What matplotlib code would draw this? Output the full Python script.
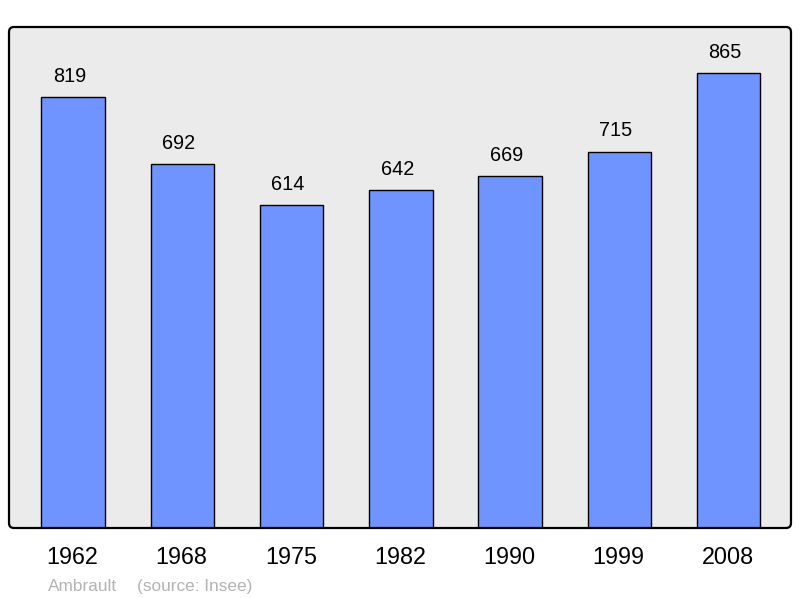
import matplotlib.pyplot as plt
from matplotlib.patches import FancyBboxPatch

plt.rcParams["font.family"] = ["Liberation Sans", "DejaVu Sans"]

years = ["1962", "1968", "1975", "1982", "1990", "1999", "2008"]
population = [819, 692, 614, 642, 669, 715, 865]
commune = "Ambrault"
source = "(source: Insee)"

fig = plt.figure(figsize=(8.0, 5.98), dpi=100)
ax = fig.add_axes([9 / 800, 70 / 598, 782 / 800, 501 / 598])
ax.patch.set_visible(False)
for s in ax.spines.values():
    s.set_visible(False)

# rounded frame: grey face behind, black outline on top
face = FancyBboxPatch((0.09, 0.70), 7.82, 5.01, boxstyle="round,pad=0,rounding_size=0.05",
                      transform=fig.dpi_scale_trans, facecolor="#ebebeb", edgecolor="none",
                      zorder=-1)
edge = FancyBboxPatch((0.09, 0.70), 7.82, 5.01, boxstyle="round,pad=0,rounding_size=0.05",
                      transform=fig.dpi_scale_trans, facecolor="none", edgecolor="black",
                      linewidth=1.6, zorder=2)
fig.patches.extend([face, edge])

x = range(len(years))
ax.bar(x, population, width=0.58, color="#7094ff", edgecolor="black", linewidth=1.0)
ax.set_xlim(-0.585, 6.57)
ax.set_ylim(0, 952)
ax.set_xticks([])
ax.set_yticks([])

for i, v in zip(x, population):
    ax.annotate(str(v), xy=(i, v), xytext=(-2.5, 11), textcoords="offset points",
                ha="center", va="baseline", fontsize=14.3)
    ax.annotate(years[i], xy=(i, 0), xytext=(-0.5, -26), textcoords="offset points",
                ha="center", va="baseline", fontsize=16.8)

fig.text(48 / 800, 1 - 591 / 598, commune, ha="left", va="baseline",
         fontsize=12.4, color="#b3b3b3")
fig.text(137 / 800, 1 - 591 / 598, source, ha="left", va="baseline",
         fontsize=12.4, color="#b3b3b3")

fig.savefig("out.png", dpi=100)
